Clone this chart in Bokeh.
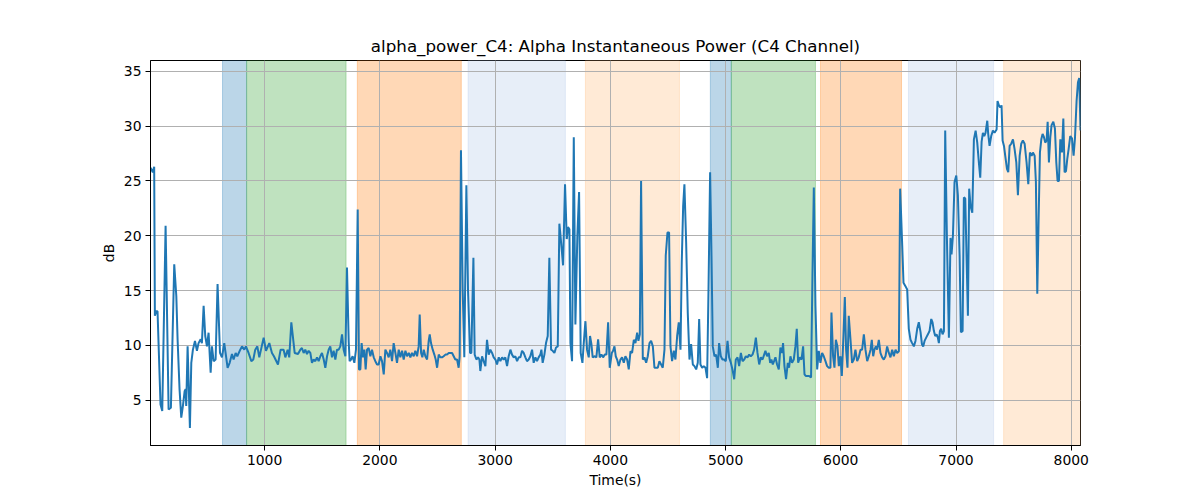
from bokeh.plotting import figure
from bokeh.models import Range1d, BoxAnnotation, FixedTicker
from bokeh.embed import file_html
from bokeh.resources import INLINE

# ---- data ----
time_s = [10, 30, 42, 48, 60, 71, 97, 112, 141, 167, 187, 216, 234, 245, 262, 277, 291, 306, 315, 320,
          332, 352, 364, 378, 396, 413, 427, 445, 456, 471, 485, 500, 514, 532, 543, 558, 575, 592, 613, 630,
          650, 679, 697, 717, 731, 749, 763, 789, 804, 824, 838, 861, 885, 902, 919, 937, 954, 992, 1012, 1041,
          1064, 1081, 1116, 1139, 1165, 1180, 1200, 1214, 1232, 1261, 1290, 1310, 1324, 1339, 1353, 1368, 1382, 1397, 1411, 1426,
          1440, 1455, 1469, 1484, 1498, 1513, 1527, 1542, 1556, 1570, 1585, 1599, 1614, 1628, 1643, 1657, 1672, 1686, 1701, 1715,
          1730, 1738, 1750, 1764, 1779, 1793, 1808, 1819, 1831, 1842, 1854, 1866, 1877, 1889, 1903, 1918, 1932, 1947, 1961, 1976,
          1990, 2005, 2019, 2034, 2048, 2062, 2077, 2091, 2106, 2120, 2135, 2149, 2164, 2178, 2193, 2207, 2222, 2236, 2251, 2265,
          2279, 2294, 2308, 2323, 2337, 2346, 2358, 2369, 2381, 2395, 2410, 2424, 2433, 2444, 2459, 2473, 2485, 2497, 2511, 2525,
          2540, 2554, 2569, 2583, 2598, 2612, 2627, 2641, 2655, 2670, 2684, 2693, 2704, 2719, 2733, 2751, 2765, 2783, 2794, 2812,
          2823, 2838, 2852, 2864, 2872, 2887, 2901, 2916, 2930, 2945, 2959, 2974, 2988, 3003, 3017, 3032, 3046, 3061, 3075, 3089,
          3104, 3118, 3133, 3147, 3162, 3176, 3191, 3205, 3220, 3234, 3248, 3263, 3277, 3292, 3306, 3321, 3335, 3350, 3364, 3378,
          3393, 3402, 3413, 3428, 3442, 3457, 3471, 3486, 3500, 3515, 3529, 3544, 3558, 3573, 3590, 3607, 3622, 3633, 3645, 3654,
          3668, 3683, 3697, 3714, 3729, 3743, 3758, 3769, 3784, 3798, 3813, 3824, 3836, 3847, 3865, 3879, 3894, 3908, 3923, 3937,
          3952, 3966, 3981, 3995, 4013, 4024, 4036, 4047, 4059, 4073, 4088, 4102, 4117, 4131, 4146, 4160, 4175, 4189, 4204, 4218,
          4233, 4244, 4256, 4267, 4282, 4296, 4311, 4325, 4340, 4354, 4369, 4383, 4397, 4412, 4426, 4441, 4455, 4470, 4481, 4496,
          4510, 4522, 4536, 4551, 4565, 4580, 4594, 4609, 4620, 4632, 4643, 4658, 4672, 4687, 4701, 4716, 4730, 4745, 4759, 4771,
          4782, 4797, 4811, 4826, 4840, 4852, 4866, 4878, 4889, 4904, 4918, 4933, 4944, 4959, 4973, 4988, 5002, 5017, 5031, 5046,
          5060, 5075, 5089, 5104, 5118, 5133, 5147, 5162, 5176, 5190, 5205, 5219, 5234, 5248, 5263, 5277, 5292, 5306, 5321, 5335,
          5346, 5360, 5375, 5387, 5398, 5410, 5421, 5433, 5447, 5462, 5476, 5491, 5499, 5511, 5525, 5540, 5551, 5563, 5577, 5592,
          5606, 5618, 5630, 5644, 5659, 5673, 5685, 5696, 5711, 5725, 5742, 5754, 5766, 5780, 5795, 5809, 5823, 5838, 5852, 5867,
          5881, 5896, 5910, 5919, 5933, 5945, 5957, 5971, 5983, 5997, 6009, 6023, 6035, 6046, 6058, 6069, 6084, 6098, 6113, 6127,
          6142, 6156, 6171, 6185, 6200, 6214, 6229, 6243, 6258, 6269, 6281, 6292, 6304, 6315, 6330, 6344, 6359, 6373, 6388, 6402,
          6417, 6431, 6446, 6460, 6475, 6489, 6504, 6515, 6533, 6544, 6561, 6576, 6590, 6605, 6619, 6634, 6648, 6663, 6677, 6692,
          6704, 6715, 6727, 6741, 6756, 6770, 6785, 6796, 6808, 6819, 6831, 6842, 6851, 6860, 6871, 6883, 6895, 6906, 6921, 6938,
          6952, 6961, 6973, 6987, 7002, 7016, 7031, 7042, 7057, 7068, 7080, 7091, 7103, 7114, 7126, 7141, 7155, 7170, 7184, 7198,
          7210, 7222, 7233, 7245, 7256, 7271, 7279, 7291, 7305, 7320, 7334, 7352, 7360, 7372, 7384, 7395, 7404, 7416, 7427, 7442,
          7453, 7465, 7479, 7494, 7508, 7523, 7537, 7552, 7566, 7580, 7595, 7612, 7627, 7641, 7656, 7667, 7682, 7693, 7705, 7716,
          7728, 7740, 7751, 7763, 7774, 7786, 7795, 7806, 7818, 7829, 7844, 7858, 7870, 7881, 7893, 7905, 7919, 7931, 7942, 7954,
          7965, 7977, 7991, 8006, 8020, 8032, 8046, 8058, 8069, 8080]

power_db = [26.2, 25.8, 26.3, 12.7, 13.1, 13.1, 4.6, 4.0, 20.9, 4.15, 4.3, 17.4, 14.5, 10.55, 6.0, 3.4, 4.45, 5.8, 6.0, 4.45,
            9.9, 2.45, 8.4, 9.6, 10.4, 9.5, 10.2, 10.55, 10.2, 13.6, 10.85, 9.9, 11.15, 7.5, 9.9, 8.55, 8.7, 15.6, 9.3, 8.9,
            10.2, 7.95, 8.4, 9.2, 8.7, 9.3, 9.0, 9.6, 9.9, 9.6, 9.9, 9.3, 8.55, 8.7, 9.6, 9.9, 8.9, 10.7, 9.5, 10.2,
            9.3, 9.0, 8.25, 9.6, 9.6, 8.9, 9.6, 8.9, 12.1, 9.3, 9.2, 9.6, 9.75, 9.3, 9.6, 9.2, 9.5, 9.3, 8.4, 8.7,
            8.55, 8.9, 8.55, 9.0, 9.3, 8.7, 7.95, 9.0, 9.6, 9.9, 8.9, 9.5, 8.7, 9.6, 9.6, 9.9, 11.0, 9.6, 9.0, 17.1,
            10.3, 8.55, 8.7, 9.0, 8.4, 9.6, 22.4, 7.8, 7.8, 10.2, 8.9, 9.6, 7.8, 9.6, 9.75, 9.0, 9.6, 8.9, 8.55, 8.25,
            8.25, 9.0, 8.55, 7.35, 9.6, 9.3, 8.9, 9.6, 8.55, 10.2, 9.3, 8.4, 9.6, 8.9, 9.5, 8.7, 9.5, 9.0, 9.3, 8.9,
            9.3, 9.0, 9.5, 9.0, 9.9, 12.8, 9.3, 8.9, 9.6, 9.0, 8.7, 10.4, 11.0, 10.2, 9.6, 9.15, 8.7, 7.95, 9.15, 8.9,
            8.9, 9.0, 9.15, 9.15, 9.3, 9.3, 9.3, 9.0, 8.7, 8.7, 7.95, 9.0, 27.8, 15.1, 8.9, 24.6, 15.1, 9.3, 9.3, 18.0,
            9.15, 8.7, 8.9, 8.7, 7.65, 9.0, 8.55, 8.1, 10.5, 9.15, 9.6, 9.3, 8.9, 8.7, 8.25, 8.9, 8.55, 8.9, 8.7, 8.9,
            8.1, 9.0, 9.6, 9.15, 8.9, 9.0, 8.55, 8.9, 8.9, 9.5, 9.3, 8.9, 8.55, 8.7, 9.0, 9.6, 8.4, 8.9, 8.55, 8.9,
            9.15, 9.6, 8.4, 9.15, 10.2, 10.85, 18.0, 9.6, 9.5, 9.3, 9.8, 9.9, 21.1, 19.4, 17.3, 24.7, 19.7, 20.8, 20.6, 10.2,
            8.55, 29.0, 11.9, 20.0, 24.0, 9.3, 8.4, 10.1, 12.2, 9.6, 8.9, 10.85, 10.1, 8.9, 9.0, 8.9, 10.55, 8.9, 9.15, 8.9,
            9.15, 9.15, 12.1, 7.95, 9.3, 9.5, 9.9, 9.0, 8.7, 8.1, 8.7, 8.9, 8.4, 9.0, 8.7, 7.8, 9.45, 9.3, 10.5, 10.2,
            11.15, 10.4, 11.0, 25.0, 8.7, 8.9, 8.4, 9.0, 10.2, 10.4, 9.9, 7.95, 7.95, 7.95, 8.55, 8.25, 7.95, 9.6, 18.2, 20.3,
            20.3, 9.9, 8.55, 9.5, 8.7, 10.85, 12.1, 9.6, 17.6, 22.7, 24.7, 19.4, 13.0, 8.7, 10.1, 8.25, 8.1, 7.8, 8.4, 12.4,
            8.25, 7.95, 8.1, 7.95, 7.0, 15.1, 25.8, 18.2, 9.9, 9.0, 9.15, 7.95, 10.2, 9.0, 8.7, 8.7, 8.55, 10.4, 8.9, 8.4,
            7.8, 6.9, 8.7, 8.9, 8.1, 9.3, 8.55, 8.7, 9.0, 8.9, 9.15, 9.0, 9.15, 9.6, 10.7, 9.3, 8.25, 8.9, 8.7, 9.15,
            9.5, 9.0, 9.3, 8.4, 8.7, 8.25, 8.55, 8.9, 8.25, 7.8, 9.8, 9.3, 10.2, 8.1, 6.9, 8.4, 7.95, 9.0, 8.4, 8.7,
            9.9, 11.5, 8.4, 8.9, 8.7, 9.9, 7.35, 7.2, 7.2, 7.2, 7.05, 16.3, 24.4, 13.6, 7.8, 9.5, 8.4, 9.3, 9.0, 8.55,
            8.1, 7.95, 7.95, 13.0, 9.0, 7.95, 10.5, 9.9, 8.1, 9.0, 7.2, 10.85, 14.4, 9.6, 7.95, 12.7, 10.55, 8.4, 8.7, 9.6,
            8.55, 8.9, 9.6, 9.6, 11.0, 9.6, 8.55, 9.0, 9.6, 10.5, 9.0, 9.6, 9.9, 9.6, 10.5, 9.3, 8.9, 8.7, 9.0, 9.9,
            9.3, 8.9, 9.6, 9.0, 9.6, 9.3, 9.45, 24.3, 19.1, 15.7, 15.4, 15.1, 11.5, 10.5, 10.2, 9.9, 10.4, 11.5, 12.1, 11.2,
            10.1, 9.9, 10.4, 10.7, 11.0, 11.3, 12.4, 12.1, 11.3, 10.85, 11.0, 10.7, 10.2, 11.3, 11.5, 11.0, 11.3, 29.6, 19.7, 10.7,
            19.8, 18.3, 20.0, 24.9, 25.5, 23.7, 18.2, 11.2, 11.3, 23.5, 23.4, 18.2, 12.7, 24.3, 22.7, 22.1, 28.8, 29.6, 28.5, 26.7,
            25.3, 28.6, 29.4, 29.1, 29.4, 30.5, 29.3, 28.2, 29.1, 29.6, 29.4, 29.7, 32.3, 31.9, 31.7, 31.9, 28.7, 28.2, 27.3, 26.1,
            25.8, 28.2, 28.4, 28.8, 27.9, 26.7, 23.7, 27.3, 28.4, 28.7, 28.4, 26.7, 24.7, 27.6, 27.3, 27.6, 27.3, 24.9, 14.7, 21.2,
            27.6, 28.8, 29.3, 29.0, 28.5, 28.7, 30.4, 26.7, 29.0, 30.1, 30.4, 29.8, 26.7, 25.0, 25.0, 28.8, 27.6, 30.7, 25.8, 25.9,
            27.0, 27.9, 29.1, 28.9, 27.3, 28.9, 32.3, 34.0, 34.4, 29.6]

span_start = [635, 844, 1805, 2766, 3784, 4868, 5050, 5824, 6587, 7413]
span_end = [844, 1707, 2707, 3610, 4600, 5050, 5780, 6527, 7326, 8085]
span_color = ["#1f77b4", "#2ca02c", "#ff7f0e", "#aec7e8", "#ffbb78",
              "#1f77b4", "#2ca02c", "#ff7f0e", "#aec7e8", "#ffbb78"]

x_ticks = [1000, 2000, 3000, 4000, 5000, 6000, 7000, 8000]
y_ticks = [5, 10, 15, 20, 25, 30, 35]

title_text = "alpha_power_C4: Alpha Instantaneous Power (C4 Channel)"
FONT = "DejaVu Sans"

ymin, ymax = min(power_db), max(power_db)
ypad = 0.05 * (ymax - ymin)

p = figure(width=1192, height=492, output_backend="svg", toolbar_location=None,
           x_range=Range1d(time_s[0], time_s[-1]),
           y_range=Range1d(ymin - ypad, ymax + ypad),
           title=title_text,
           min_border_left=150, min_border_right=112,
           min_border_top=60, min_border_bottom=47)

p.background_fill_color = "white"
p.border_fill_color = "white"
p.outline_line_color = "black"
p.outline_line_alpha = 1.0
p.outline_line_width = 1

# spans, drawn beneath the grid
boxes = []
for s, e, c in zip(span_start, span_end, span_color):
    boxes.append(BoxAnnotation(left=s, right=e, fill_color=c, fill_alpha=0.3,
                               line_color=c, line_alpha=0.3, line_width=1,
                               level="underlay"))
p.center = boxes + list(p.center)

p.line(time_s, power_db, line_color="#1f77b4", line_width=2)

# grid
p.grid.grid_line_color = "#b0b0b0"
p.grid.grid_line_width = 1
p.grid.grid_line_alpha = 1.0

# axes
p.xaxis.ticker = FixedTicker(ticks=x_ticks)
p.yaxis.ticker = FixedTicker(ticks=y_ticks)
p.xaxis.axis_label = "Time(s)"
p.yaxis.axis_label = "dB"
for ax in (p.xaxis, p.yaxis):
    ax.axis_line_color = "black"
    ax.major_tick_line_color = "black"
    ax.major_tick_out = 5
    ax.major_tick_in = 0
    ax.minor_tick_line_color = None
    ax.major_label_text_font = FONT
    ax.major_label_text_font_size = "13.9px"
    ax.major_label_text_color = "black"
    ax.axis_label_text_font = FONT
    ax.axis_label_text_font_size = "13.9px"
    ax.axis_label_text_font_style = "normal"
    ax.axis_label_text_color = "black"
    ax.major_label_standoff = 4
    ax.axis_label_standoff = 4

p.title.align = "center"
p.title.text_font = FONT
p.title.text_font_size = "16.7px"
p.title.text_font_style = "normal"
p.title.text_color = "black"

open("out.html", "w").write(file_html(p, INLINE))
